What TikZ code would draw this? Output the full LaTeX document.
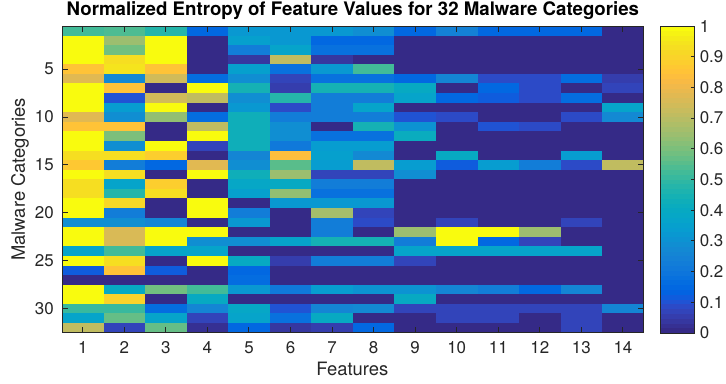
\documentclass[tikz,border=0pt]{standalone}
\usepackage{fontspec}
\setmainfont{TeX Gyre Heros}
\definecolor{axc}{rgb}{0.15,0.15,0.15}
\definecolor{par0}{rgb}{0.2081,0.1663,0.5292}
\definecolor{par1}{rgb}{0.2116,0.1898,0.5777}
\definecolor{par2}{rgb}{0.2123,0.2138,0.6270}
\definecolor{par3}{rgb}{0.2081,0.2386,0.6771}
\definecolor{par4}{rgb}{0.1959,0.2645,0.7279}
\definecolor{par5}{rgb}{0.1707,0.2919,0.7792}
\definecolor{par6}{rgb}{0.1253,0.3242,0.8303}
\definecolor{par7}{rgb}{0.0591,0.3598,0.8683}
\definecolor{par8}{rgb}{0.0117,0.3875,0.8820}
\definecolor{par9}{rgb}{0.0060,0.4086,0.8828}
\definecolor{par10}{rgb}{0.0165,0.4266,0.8786}
\definecolor{par11}{rgb}{0.0329,0.4430,0.8720}
\definecolor{par12}{rgb}{0.0498,0.4586,0.8641}
\definecolor{par13}{rgb}{0.0629,0.4737,0.8554}
\definecolor{par14}{rgb}{0.0723,0.4887,0.8467}
\definecolor{par15}{rgb}{0.0779,0.5040,0.8384}
\definecolor{par16}{rgb}{0.0793,0.5200,0.8312}
\definecolor{par17}{rgb}{0.0749,0.5375,0.8263}
\definecolor{par18}{rgb}{0.0641,0.5570,0.8240}
\definecolor{par19}{rgb}{0.0488,0.5772,0.8228}
\definecolor{par20}{rgb}{0.0343,0.5966,0.8199}
\definecolor{par21}{rgb}{0.0265,0.6137,0.8135}
\definecolor{par22}{rgb}{0.0239,0.6287,0.8038}
\definecolor{par23}{rgb}{0.0231,0.6418,0.7913}
\definecolor{par24}{rgb}{0.0228,0.6535,0.7768}
\definecolor{par25}{rgb}{0.0267,0.6642,0.7607}
\definecolor{par26}{rgb}{0.0384,0.6743,0.7436}
\definecolor{par27}{rgb}{0.0590,0.6838,0.7254}
\definecolor{par28}{rgb}{0.0843,0.6928,0.7062}
\definecolor{par29}{rgb}{0.1133,0.7015,0.6859}
\definecolor{par30}{rgb}{0.1453,0.7098,0.6646}
\definecolor{par31}{rgb}{0.1801,0.7177,0.6424}
\definecolor{par32}{rgb}{0.2178,0.7250,0.6193}
\definecolor{par33}{rgb}{0.2586,0.7317,0.5954}
\definecolor{par34}{rgb}{0.3022,0.7376,0.5712}
\definecolor{par35}{rgb}{0.3482,0.7424,0.5473}
\definecolor{par36}{rgb}{0.3953,0.7459,0.5244}
\definecolor{par37}{rgb}{0.4420,0.7481,0.5033}
\definecolor{par38}{rgb}{0.4871,0.7491,0.4840}
\definecolor{par39}{rgb}{0.5300,0.7491,0.4661}
\definecolor{par40}{rgb}{0.5709,0.7485,0.4494}
\definecolor{par41}{rgb}{0.6099,0.7473,0.4337}
\definecolor{par42}{rgb}{0.6473,0.7456,0.4188}
\definecolor{par43}{rgb}{0.6834,0.7435,0.4044}
\definecolor{par44}{rgb}{0.7184,0.7411,0.3905}
\definecolor{par45}{rgb}{0.7525,0.7384,0.3768}
\definecolor{par46}{rgb}{0.7858,0.7356,0.3633}
\definecolor{par47}{rgb}{0.8185,0.7327,0.3498}
\definecolor{par48}{rgb}{0.8507,0.7299,0.3360}
\definecolor{par49}{rgb}{0.8824,0.7274,0.3217}
\definecolor{par50}{rgb}{0.9139,0.7258,0.3063}
\definecolor{par51}{rgb}{0.9450,0.7261,0.2886}
\definecolor{par52}{rgb}{0.9739,0.7314,0.2666}
\definecolor{par53}{rgb}{0.9938,0.7455,0.2403}
\definecolor{par54}{rgb}{0.9990,0.7653,0.2164}
\definecolor{par55}{rgb}{0.9955,0.7861,0.1967}
\definecolor{par56}{rgb}{0.9880,0.8066,0.1794}
\definecolor{par57}{rgb}{0.9789,0.8271,0.1633}
\definecolor{par58}{rgb}{0.9697,0.8481,0.1475}
\definecolor{par59}{rgb}{0.9626,0.8705,0.1309}
\definecolor{par60}{rgb}{0.9589,0.8949,0.1132}
\definecolor{par61}{rgb}{0.9598,0.9218,0.0948}
\definecolor{par62}{rgb}{0.9661,0.9514,0.0755}
\definecolor{par63}{rgb}{0.9763,0.9831,0.0538}
\tikzset{
  ticklab/.style={font=\fontsize{12.7}{14}\selectfont, text=axc, inner sep=0pt},
  axlab/.style={font=\fontsize{13.8}{15}\selectfont, text=axc, inner sep=0pt},
  titlelab/.style={font=\bfseries\fontsize{14}{16}\selectfont, text=black, inner sep=0pt},
  axline/.style={draw=axc, line width=0.75pt},
  tickline/.style={draw=axc, line width=0.75pt}
}
\begin{document}
\begin{tikzpicture}[x=0.75pt,y=-0.75pt]
\useasboundingbox (0,0) rectangle (726,383);
\fill[white] (0,0) rectangle (726,383);
% heat map cells
\foreach \rowvals [count=\r] in {
 {0.52,0.54,0.47,0.15,0.31,0.31,0.31,0.28,0.15,0.24,0.14,0.14,0.15,0},
 {1,0.65,1,0,0.35,0.31,0.15,0.15,0,0,0,0,0,0},
 {1,0.59,1,0,0.22,0.36,0.17,0.17,0,0,0,0,0,0},
 {1,0.93,1,0,0.03,0.71,0.03,0,0,0,0,0,0,0},
 {0.85,0.95,0.85,0,0.35,0.18,0.31,0.53,0,0,0,0,0,0},
 {0.77,0.27,0.74,0.16,0.29,0.06,0.17,0.17,0.15,0.25,0.08,0.08,0.16,0.04},
 {1,0.85,0,1,0.44,0.05,0.45,0.45,0.40,0,0.15,0.08,0,0.07},
 {1,0.10,0.75,0.71,0.29,0.47,0.23,0.23,0.36,0.15,0.11,0.08,0.16,0},
 {1,0.33,1,0,0.31,0.08,0.23,0.36,0,0,0,0,0,0.37},
 {0.77,0.28,0.64,0.16,0.43,0.23,0.23,0.23,0.10,0.08,0,0,0.08,0.27},
 {0.85,0.85,0,0.72,0.43,0.29,0,0.45,0.30,0,0.10,0.08,0,0},
 {1,0.60,0,1,0.43,0.29,0.17,0.17,0.42,0,0,0,0,0},
 {1,0.28,1,0.07,0.43,0.20,0.33,0.33,0,0,0,0,0,0},
 {0.94,0.94,0.89,0,0.25,0.84,0.35,0.27,0,0.40,0,0,0.34,0},
 {0.88,0.22,0.15,0.77,0.29,0.55,0.34,0.71,0.34,0.11,0.34,0.22,0.08,0.71},
 {1,0.94,0,1,0.43,0.65,0.07,0.07,0.29,0,0,0,0,0},
 {0.94,0.36,0.89,0,0.38,0.40,0.22,0.22,0,0,0,0,0,0},
 {0.94,0.47,0.94,0,0.35,0.64,0.17,0.17,0,0,0,0,0,0},
 {1,0.92,0,1,0,0.31,0.31,0.31,0,0,0,0,0,0},
 {1,0.23,0,1,0.22,0,0.66,0.07,0,0,0,0,0,0},
 {0.29,0.29,0.25,0,0.31,0,0.22,0.08,0,0.07,0,0,0.07,0},
 {1,0.76,1,1,0,0,0.22,0,0.65,1,1,0.65,0,0},
 {1,0.76,1,0.29,0.29,0.36,0.45,0.45,0.22,1,0.15,0.07,0,0},
 {0.37,0.52,0.37,0.37,0,0,0,0,0.37,0.37,0.37,0.37,0.37,0},
 {1,0.94,0,1,0.40,0.05,0.23,0.23,0.07,0,0,0,0,0},
 {0.11,0.86,0.11,0,0.14,0,0,0,0,0,0,0,0,0},
 {0,0,0,0,0.16,0,0,0,0,0,0,0,0,0},
 {1,0.40,0.59,0.53,0.32,0.20,0.33,0.30,0.30,0.25,0.22,0.15,0.25,0},
 {1,0.90,0,0.39,0,0,0,0,0.39,0,0,0,0,0},
 {0.50,0.50,0.16,0.25,0.38,0.10,0.26,0.27,0.07,0.07,0.07,0.07,0.07,0.26},
 {0.37,0.57,0.37,0.07,0.37,0.17,0.40,0,0,0.07,0.07,0,0.07,0},
 {0.72,0.07,0.57,0.02,0.15,0.03,0.05,0.15,0,0,0,0,0.07,0}} {
  \foreach \v [count=\c] in \rowvals {
    \pgfmathtruncatemacro\idx{round(\v*63)}
    \fill[par\idx] ({62+(\c-1)*41.55},{26+(\r-1)*9.58}) rectangle ({62+\c*41.55+0.3},{26+\r*9.58+0.3});
  }
}
% axes box and ticks
\coordinate (axnw) at (62,26);
\coordinate (axse) at (643.7,332.7);
\draw[axline] (axnw) rectangle (axse);
\foreach \c in {1,...,14} {
  \pgfmathsetmacro\xx{62+(\c-0.5)*41.55}
  \draw[tickline] (\xx,332.7) -- ++(0,-6);
  \draw[tickline] (\xx,26) -- ++(0,6);
  \node[ticklab, anchor=base] (xt\c) at (\xx,353) {\c};
}
\foreach \r in {5,10,...,30} {
  \pgfmathsetmacro\yy{26+(\r-0.5)*9.58}
  \draw[tickline] (62,\yy) -- ++(6,0);
  \draw[tickline] (643.7,\yy) -- ++(-6,0);
  \node[ticklab, anchor=east] (yt\r) at (54,\yy) {\r};
}
% labels
\node[titlelab, anchor=base] (title) at (352.9,15.7) {Normalized Entropy of Feature Values for 32 Malware Categories};
\node[axlab, anchor=base] (xlabel) at (352.3,375) {Features};
\node[axlab, anchor=base, rotate=90] (ylabel) at (25,179.4) {Malware Categories};
% colorbar
\foreach \i in {0,...,63} {
  \fill[par\i] (660,{333-(\i+1)*4.797}) rectangle (694.3,{333-\i*4.797+0.2});
}
\coordinate (cbnw) at (660,26);
\coordinate (cbse) at (694.3,333);
\draw[axline] (cbnw) rectangle (cbse);
\foreach \k/\lab in {0/0,1/0.1,2/0.2,3/0.3,4/0.4,5/0.5,6/0.6,7/0.7,8/0.8,9/0.9,10/1} {
  \pgfmathsetmacro\yy{333-\k*30.7}
  \draw[tickline] (694.3,\yy) -- ++(-3.7,0);
  \node[ticklab, anchor=west] (cb\k) at (699.5,\yy) {\lab};
}
\end{tikzpicture}
\end{document}
